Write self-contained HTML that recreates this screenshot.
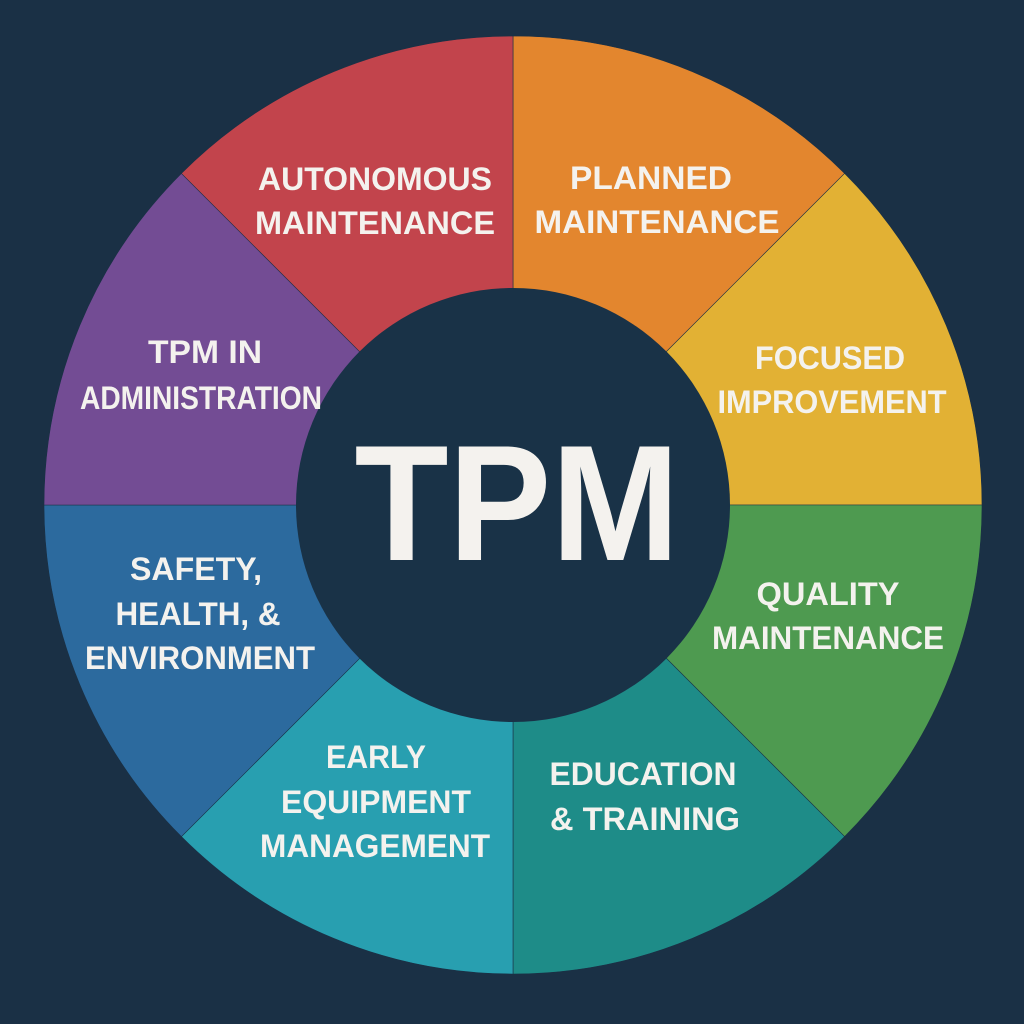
<!DOCTYPE html>
<html><head><meta charset="utf-8"><style>
html,body{margin:0;padding:0;background:#1A3045;}
svg{display:block}
text{font-family:"Liberation Sans",sans-serif;font-weight:bold;fill:#F4F2EE;text-anchor:middle;}
</style></head><body>
<svg width="1024" height="1024" viewBox="0 0 1024 1024" xmlns="http://www.w3.org/2000/svg">
<rect width="1024" height="1024" fill="#1A3045"/>
<g transform="translate(513,505)" stroke="#1A3045" stroke-width="0.6">
<path d="M0 0 L0 -469 A469 469 0 0 1 331.6 -331.6 Z" fill="#E3862E"/>
<path d="M0 0 L331.6 -331.6 A469 469 0 0 1 469 0 Z" fill="#E2B134"/>
<path d="M0 0 L469 0 A469 469 0 0 1 331.6 331.6 Z" fill="#4E9A50"/>
<path d="M0 0 L331.6 331.6 A469 469 0 0 1 0 469 Z" fill="#1E8C88"/>
<path d="M0 0 L0 469 A469 469 0 0 1 -331.6 331.6 Z" fill="#289FB0"/>
<path d="M0 0 L-331.6 331.6 A469 469 0 0 1 -469 0 Z" fill="#2C6A9E"/>
<path d="M0 0 L-469 0 A469 469 0 0 1 -331.6 -331.6 Z" fill="#734C94"/>
<path d="M0 0 L-331.6 -331.6 A469 469 0 0 1 0 -469 Z" fill="#C2444C"/>
<circle cx="0" cy="0" r="217" fill="#193247" stroke="none"/>
</g>
<g font-size="32">
<text x="375" y="190" textLength="234" lengthAdjust="spacingAndGlyphs">AUTONOMOUS</text>
<text x="375" y="234" textLength="240" lengthAdjust="spacingAndGlyphs">MAINTENANCE</text>
<text x="651" y="189" textLength="162" lengthAdjust="spacingAndGlyphs">PLANNED</text>
<text x="657" y="233" textLength="245" lengthAdjust="spacingAndGlyphs">MAINTENANCE</text>
<text x="830" y="369" textLength="150" lengthAdjust="spacingAndGlyphs">FOCUSED</text>
<text x="832" y="413" textLength="229" lengthAdjust="spacingAndGlyphs">IMPROVEMENT</text>
<text x="828" y="605" textLength="143" lengthAdjust="spacingAndGlyphs">QUALITY</text>
<text x="828" y="649" textLength="232" lengthAdjust="spacingAndGlyphs">MAINTENANCE</text>
<text x="643" y="785" textLength="187" lengthAdjust="spacingAndGlyphs">EDUCATION</text>
<text x="645" y="830" textLength="190" lengthAdjust="spacingAndGlyphs">&amp; TRAINING</text>
<text x="376" y="768" textLength="100" lengthAdjust="spacingAndGlyphs">EARLY</text>
<text x="376" y="813" textLength="190" lengthAdjust="spacingAndGlyphs">EQUIPMENT</text>
<text x="375" y="857" textLength="230" lengthAdjust="spacingAndGlyphs">MANAGEMENT</text>
<text x="196" y="580" textLength="132" lengthAdjust="spacingAndGlyphs">SAFETY,</text>
<text x="198" y="625" textLength="165" lengthAdjust="spacingAndGlyphs">HEALTH, &amp;</text>
<text x="200" y="669" textLength="230" lengthAdjust="spacingAndGlyphs">ENVIRONMENT</text>
<text x="205" y="363" textLength="114" lengthAdjust="spacingAndGlyphs">TPM IN</text>
<text x="201" y="409" textLength="242" lengthAdjust="spacingAndGlyphs">ADMINISTRATION</text>
</g>
<text x="517" y="560" font-size="165" textLength="325" lengthAdjust="spacingAndGlyphs">TPM</text>
</svg>
</body></html>
